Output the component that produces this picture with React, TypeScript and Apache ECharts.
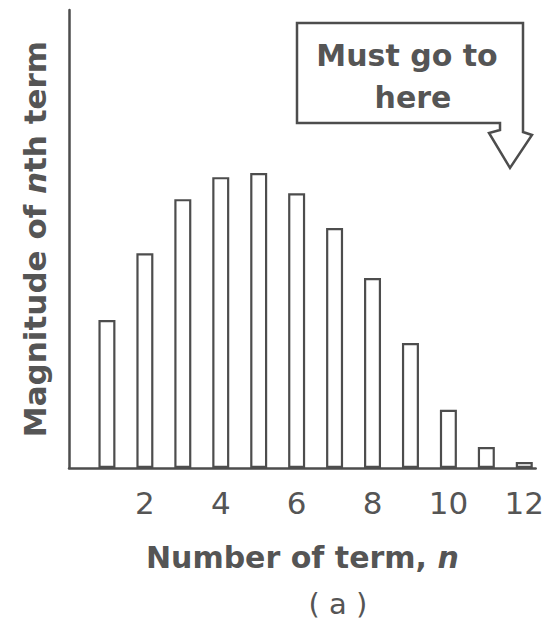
import React, { useEffect, useRef } from "react";
import * as echarts from "echarts";

const termNumbers = [1, 2, 3, 4, 5, 6, 7, 8, 9, 10, 11, 12];
const magnitudes = [32.3, 46.9, 58.7, 63.5, 64.4, 60.0, 52.4, 41.5, 27.3, 12.7, 4.6, 1.3];
const tickLabels = ["2", "4", "6", "8", "10", "12"];
const calloutLines = ["Must go to", "here"];

const INK = "#4d4d4d";
const TEXT = "#555555";
const FONT = "DejaVu Sans";

export default function App() {
  const ref = useRef<HTMLDivElement>(null);
  useEffect(() => {
    if (!ref.current) return;
    const chart = echarts.init(ref.current, undefined, { renderer: "svg" });
    const nameStyle = (size: number) => ({
      fontFamily: FONT,
      fontSize: size,
      fontWeight: "bold",
      color: TEXT,
      rich: { i: { fontStyle: "italic", fontWeight: "bold", fontFamily: FONT, fontSize: size, color: TEXT } },
    });
    chart.setOption({
      animation: false,
      backgroundColor: "#ffffff",
      textStyle: { fontFamily: FONT, color: TEXT },
      title: {
        text: "( a )",
        left: 333,
        top: 584,
        textAlign: "center",
        textStyle: { fontFamily: FONT, fontSize: 29, fontWeight: "normal", color: TEXT },
      },
      grid: { left: 69, right: 8, top: 10, bottom: 160, containLabel: false },
      xAxis: {
        type: "value",
        min: 0,
        max: 12.3,
        interval: 2,
        name: "Number of term, {i|n}",
        nameLocation: "middle",
        nameGap: 74,
        nameTextStyle: nameStyle(30),
        axisLine: { show: true, lineStyle: { color: INK, width: 2.5 } },
        axisTick: { show: false },
        splitLine: { show: false },
        axisLabel: {
          margin: 19,
          fontFamily: FONT,
          fontSize: 31,
          color: TEXT,
          formatter: (v: number) => (tickLabels.includes(String(v)) ? String(v) : ""),
        },
      },
      yAxis: {
        type: "value",
        min: 0,
        max: 100,
        name: "Magnitude of {i|n}th term",
        nameLocation: "middle",
        nameGap: 19,
        nameTextStyle: nameStyle(31),
        axisLine: { show: true, lineStyle: { color: INK, width: 2.5 } },
        axisTick: { show: false },
        axisLabel: { show: false },
        splitLine: { show: false },
      },
      series: [
        {
          type: "bar",
          data: termNumbers.map((n, i) => [n, magnitudes[i]]),
          barWidth: 17,
          itemStyle: { color: "#ffffff", borderColor: INK, borderWidth: 2.2 },
        },
      ],
      graphic: [
        {
          type: "polygon",
          shape: {
            points: [
              [297, 23],
              [523, 23],
              [523, 132],
              [532, 135],
              [510, 168],
              [489, 133],
              [500, 130],
              [500, 123],
              [297, 123],
            ],
          },
          style: { fill: "#ffffff", stroke: INK, lineWidth: 2.5 },
        },
        {
          type: "text",
          x: 407,
          y: 55,
          style: {
            text: calloutLines[0],
            fontFamily: FONT,
            fontSize: 30,
            fontWeight: "bold",
            fill: TEXT,
            align: "center",
            verticalAlign: "middle",
          },
        },
        {
          type: "text",
          x: 413,
          y: 97,
          style: {
            text: calloutLines[1],
            fontFamily: FONT,
            fontSize: 30,
            fontWeight: "bold",
            fill: TEXT,
            align: "center",
            verticalAlign: "middle",
          },
        },
      ],
    });
    return () => chart.dispose();
  }, []);
  return (
    <div
      ref={ref}
      style={{ position: "fixed", left: 0, top: 0, width: 547, height: 628, background: "#fff" }}
    />
  );
}
